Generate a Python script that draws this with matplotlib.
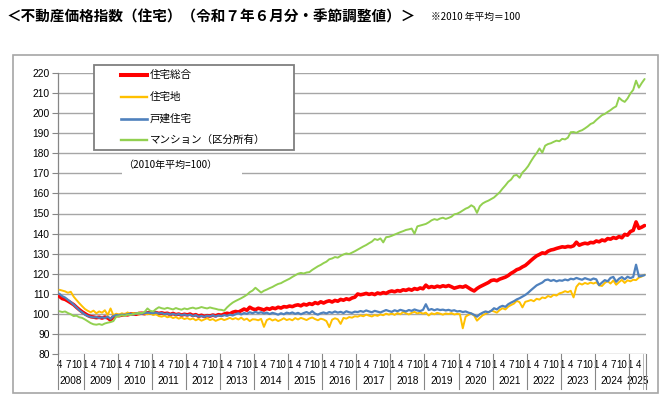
import matplotlib
matplotlib.use("Agg")
import matplotlib.pyplot as plt
from matplotlib import font_manager
from matplotlib.transforms import blended_transform_factory
from matplotlib.lines import Line2D
from matplotlib.patches import Rectangle

# ---------------- data ----------------
title = "＜不動産価格指数（住宅）（令和７年６月分・季節調整値）＞"
note = "※2010 年平均＝100"
base_note = "（2010年平均=100）"
series_names = ["住宅総合", "住宅地", "戸建住宅", "マンション（区分所有）"]
start_year, start_month = 2008, 4
y_ticks = list(range(80, 221, 10))
month_label_set = [1, 4, 7, 10]

total = [
    108.7, 107.6, 107.2, 106.4, 105.5, 104.6, 103.3, 102.1, 101.0,
    100.1, 99.2, 98.6, 98.4, 98.1, 98.3, 97.9, 98.4, 98.0, 96.9, 98.7, 99.2,
    99.1, 99.4, 99.6, 99.5, 99.9, 100.0, 99.8, 100.2, 100.3, 100.1, 100.5, 100.6,
    100.4, 100.6, 100.2, 100.5, 100.1, 100.3, 99.7, 100.2, 99.6, 99.9, 99.4, 99.8,
    99.5, 99.9, 99.2, 99.6, 98.8, 99.3, 98.7, 99.1, 98.9, 99.4, 99.0, 99.6,
    99.3, 99.9, 100.3, 100.0, 100.8, 101.2, 100.9, 101.6, 102.4, 101.8, 103.3, 102.5,
    102.1, 102.8, 102.4, 101.9, 102.7, 102.3, 103.0, 102.6, 103.3, 102.9, 103.6, 103.4,
    103.9, 103.6, 104.2, 104.5, 104.0, 104.8, 104.4, 105.1, 104.7, 105.6, 105.1, 106.0,
    105.4, 106.1, 106.5, 105.9, 106.7, 106.3, 107.2, 106.8, 107.5, 107.1, 107.9, 108.3,
    109.9, 109.5, 109.8, 110.2, 109.7, 110.1, 109.6, 110.4, 110.0, 110.6, 110.2, 111.0,
    111.4, 111.0, 111.6, 111.3, 112.0, 111.7, 112.3, 111.8, 112.6, 112.2, 112.9, 112.5,
    114.3, 113.1, 113.6, 113.2, 113.8, 113.4, 114.0, 113.6, 114.1, 113.5, 112.8, 113.2,
    113.6, 113.3, 113.9, 113.0, 112.1, 111.4, 112.6, 113.5, 114.2, 114.9, 115.6, 116.6,
    116.9, 116.5, 117.3, 117.8, 118.3, 119.1, 120.2, 121.0, 122.0, 122.5, 123.4, 124.1,
    125.3, 126.6, 127.8, 128.9, 129.6, 130.4, 130.1, 131.2, 131.8, 132.1, 132.6, 133.0,
    133.4, 133.2, 133.6, 133.4, 133.9, 135.7, 134.2, 134.8, 135.2, 134.9, 135.6, 135.4,
    136.3, 135.9, 136.8, 136.4, 137.5, 137.2, 138.0, 137.6, 138.5, 137.9, 139.6, 139.2,
    141.0, 141.6, 145.8, 142.6, 143.2, 144.0,
]

land = [
    112.0, 111.6, 111.2, 110.5, 111.0, 108.6, 106.9, 105.3, 103.8,
    102.4, 101.5, 100.8, 101.6, 100.3, 101.2, 100.6, 101.8, 99.4, 102.7, 99.2, 100.1,
    99.6, 100.3, 99.8, 100.7, 99.9, 100.4, 100.0, 99.7, 100.5, 100.1, 99.8, 100.2,
    99.4, 99.8, 98.9, 98.6, 99.1, 98.3, 98.7, 97.9, 98.4, 97.6, 98.2, 97.4,
    97.9, 97.2, 97.7, 96.8, 97.5, 96.6, 97.2, 97.8, 96.9, 97.4, 96.5, 97.1,
    97.6, 96.9, 97.4, 98.0, 97.3, 97.9, 97.2, 98.1, 97.0, 97.6, 96.4, 97.3,
    97.2, 96.8, 97.5, 93.5, 96.9, 97.6, 96.7, 97.3, 96.4, 97.0, 97.8, 96.9,
    97.4, 96.8, 97.9, 97.2, 98.0, 97.5, 96.9, 97.7, 98.2, 97.4, 96.8, 97.6,
    97.2, 96.4, 93.4, 97.1, 97.8, 97.3, 95.0, 98.0, 97.6, 98.4, 98.1, 98.8,
    98.6, 99.2, 98.8, 99.6, 99.1, 98.7, 99.4, 99.0, 99.7, 99.3, 100.1, 99.6,
    100.2, 99.5, 100.4, 99.8, 100.9, 100.3, 99.7, 100.5, 101.0, 100.2, 100.7, 100.1,
    100.6, 99.2, 100.3, 99.8, 100.5, 100.1, 99.6, 100.2, 99.9, 100.4, 99.7, 100.0,
    99.8, 92.8, 98.6, 99.5, 100.2, 99.1, 96.6, 98.0, 99.3, 100.0, 100.8, 101.6,
    101.2, 100.6, 101.9, 102.8, 102.2, 103.6, 104.4, 105.1, 106.5, 105.8, 103.2, 106.0,
    106.4, 106.9, 106.3, 107.5, 107.1, 108.2, 107.8, 108.9, 108.4, 109.5, 109.1, 110.2,
    110.6, 111.3, 110.8, 111.5, 108.2, 113.5, 115.2, 114.6, 115.4, 114.9, 115.6, 115.1,
    115.7, 114.2, 113.9, 115.4, 116.3, 115.1, 116.6, 114.5, 115.8, 116.9, 115.4, 116.7,
    116.2, 117.0, 116.8, 118.1, 118.6, 119.5,
]

house = [
    110.0, 108.8, 108.1, 107.0, 105.9, 104.6, 103.2, 101.8, 100.7,
    99.6, 98.9, 98.5, 98.2, 98.4, 98.0, 98.3, 97.9, 98.6, 97.5, 98.9, 99.4,
    99.2, 99.6, 99.4, 99.8, 100.0, 99.7, 100.1, 100.3, 100.0, 100.4, 100.6, 100.5,
    100.3, 100.7, 100.1, 100.5, 99.8, 100.2, 99.6, 100.0, 99.5, 99.9, 99.3, 99.7,
    99.2, 99.6, 98.9, 99.4, 98.6, 99.0, 98.5, 99.1, 98.8, 99.3, 98.7, 99.2,
    98.9, 99.4, 99.0, 99.6, 99.2, 99.8, 100.3, 99.7, 100.4, 100.0, 100.8, 100.3,
    101.0, 100.4, 100.8, 100.2, 100.6, 99.9, 100.5, 100.1, 99.6, 100.3, 99.8, 100.6,
    100.2, 100.7, 100.0, 100.5, 99.8, 100.4, 100.9, 100.2, 101.3, 100.1, 99.6, 100.3,
    100.7, 100.2, 100.9, 100.5, 101.2, 100.6, 101.0, 100.4, 101.3, 100.8, 100.5, 101.1,
    100.9, 101.4, 101.0, 101.7, 101.2, 100.8, 101.5, 101.1, 100.7, 101.3, 101.9, 101.4,
    101.0, 101.8, 101.3, 102.0, 101.6, 101.2, 101.9, 101.5, 102.2, 101.7, 101.4, 102.0,
    104.8, 101.9, 102.4, 101.8, 102.3, 101.9, 102.1, 101.7, 102.0, 101.5, 101.8, 101.2,
    101.4, 100.9, 101.2, 100.6, 100.2, 99.5, 98.6, 99.8, 100.6, 101.2, 100.8, 101.5,
    102.8, 102.2, 103.4, 104.0, 103.5, 104.8, 105.6, 106.3, 107.2, 107.8, 108.6, 109.4,
    110.5, 111.8, 113.0, 114.2, 114.9, 115.6, 116.8, 117.1, 116.4, 116.9, 116.2, 116.7,
    116.5, 117.1, 116.7, 117.5, 117.2, 117.9, 117.4, 117.0, 117.8, 117.3, 116.9, 117.6,
    117.2, 114.3, 115.6, 116.8, 116.2, 117.9, 118.4, 116.0, 117.5, 118.3, 117.2, 118.5,
    117.8, 118.4, 124.5, 118.6, 118.9, 119.3,
]

condo = [
    101.3, 100.9, 101.2, 100.4, 99.8, 98.9, 99.1, 98.3, 98.0,
    97.2, 96.3, 95.4, 94.8, 94.6, 94.9, 94.5, 95.2, 95.6, 95.9, 96.4, 98.6,
    98.8, 99.3, 99.0, 99.6, 99.4, 99.9, 100.2, 100.6, 100.3, 101.0, 102.7, 101.5,
    101.2, 102.4, 103.3, 102.8, 102.5, 103.0, 102.6, 102.2, 102.9, 102.4, 102.1, 102.7,
    102.3, 102.8, 103.1, 102.6, 102.9, 103.4, 103.0, 102.7, 103.2, 102.8, 102.5, 102.1,
    102.0, 101.6, 103.2, 104.5, 105.6, 106.4, 107.1, 107.8, 108.6, 109.5, 110.8, 111.6,
    113.0, 111.8, 110.6, 111.5, 112.1, 112.8, 113.4, 114.2, 114.9, 115.3, 116.1, 116.8,
    117.5, 118.4, 119.2, 120.0, 120.4, 120.1, 120.6, 120.8, 121.9, 122.8, 123.7, 124.4,
    125.3, 126.0, 127.2, 127.6, 128.3, 128.0, 128.9, 129.6, 130.1, 129.8, 130.5, 131.2,
    132.0, 132.8, 133.6, 134.3, 135.2, 136.0, 137.3, 136.8, 137.6, 135.6, 138.2, 138.4,
    138.9, 139.5, 140.1, 140.7, 141.2, 141.8, 142.1, 142.5, 139.9, 143.6, 144.0, 144.4,
    144.8, 145.6, 146.6, 147.2, 146.8, 147.5, 147.9, 147.3, 147.8, 148.4, 149.6, 149.9,
    150.6, 151.5, 152.4, 153.0, 154.1, 153.2, 150.3, 153.6, 155.0, 155.8, 156.4, 157.2,
    158.0, 159.3, 160.6, 162.4, 164.0, 165.8, 166.9, 168.9, 169.2, 167.8, 170.4, 171.8,
    173.6, 176.0, 178.2, 180.1, 182.4, 180.3, 183.8, 184.6, 185.0, 185.7, 186.3, 186.0,
    187.2, 186.9, 187.8, 190.5, 190.6, 190.2, 191.0, 191.5, 192.4, 193.4, 194.6, 195.2,
    196.6, 197.8, 199.0, 199.6, 200.6, 201.5, 202.6, 203.4, 207.7, 206.4, 205.6, 207.3,
    209.8, 211.6, 216.2, 212.7, 215.0, 217.0,
]

series = [total, land, house, condo]
colors = ["#ff0000", "#ffc000", "#4f81bd", "#92d050"]
widths = [2.6, 1.4, 1.6, 1.4]

# ---------------- fonts ----------------
available = {f.name for f in font_manager.fontManager.ttflist}
jp = ["Noto Sans CJK JP", "DejaVu Sans"]
num_font = "Liberation Sans" if "Liberation Sans" in available else "DejaVu Sans"
narrow_font = "Liberation Sans Narrow" if "Liberation Sans Narrow" in available else num_font
plt.rcParams["font.family"] = jp

W, H = 662, 399
fig = plt.figure(figsize=(W / 100, H / 100), dpi=100)
fig.patch.set_facecolor("white")


def fx(px):
    return px / W


def fy(py):
    return 1 - py / H


# axes geometry (pixels)
ax_left, ax_right, ax_top, ax_bottom = 58, 646, 72.6, 354.4
ax = fig.add_axes([fx(ax_left), fy(ax_bottom), (ax_right - ax_left) / W, (ax_bottom - ax_top) / H])
ax.set_facecolor("none")

n = len(total)
x = list(range(n))
for s, c, lw in zip(series, colors, widths):
    ax.plot(x, s, color=c, lw=lw, solid_joinstyle="round", solid_capstyle="round", zorder=3)

ax.set_xlim(-0.5, n - 0.5)
ax.set_ylim(79.8, 220.2)
ax.set_yticks(y_ticks)
ax.set_yticklabels([str(v) for v in y_ticks], fontsize=7.4, family=num_font)
ax.tick_params(axis="y", length=4, width=0.8, color="#868686", pad=2)
ax.set_xticks([])
ax.yaxis.grid(True, color="#a6a6a6", lw=1.0)
ax.set_axisbelow(True)
for sp in ["top", "right", "bottom"]:
    ax.spines[sp].set_visible(False)
ax.spines["left"].set_color("#868686")
ax.spines["left"].set_linewidth(0.9)

# ---------------- category axis (multi-level) ----------------
ym = [(start_year + (start_month - 1 + k) // 12, (start_month - 1 + k) % 12 + 1) for k in range(n)]
blend = blended_transform_factory(ax.transData, fig.transFigure)
for k, (yy, mm) in enumerate(ym):
    if mm in month_label_set:
        ax.text(k, fy(364.5), str(mm), transform=blend, ha="center", va="center",
                fontsize=7.0, family=narrow_font, clip_on=False)

years = sorted(set(yy for yy, _ in ym))
for yy in years:
    idx = [k for k, (a, _) in enumerate(ym) if a == yy]
    first, last = idx[0], idx[-1]
    ax.text((first + last) / 2, fy(381), str(yy), transform=blend, ha="center", va="center",
            fontsize=7.2, family=narrow_font, clip_on=False)
    fig.add_artist(Line2D([first - 0.5, first - 0.5], [fy(354.4), fy(389)], transform=blend,
                          color="#868686", lw=0.8))
fig.add_artist(Line2D([n - 0.5, n - 0.5], [fy(354.4), fy(389)], transform=blend,
                      color="#868686", lw=0.8))
fig.add_artist(Line2D([n - 1.6, n - 1.6], [fy(354.4), fy(389)], transform=blend,
                      color="#b0b0b0", lw=0.6))

# ---------------- chart frame ----------------
fig.add_artist(Rectangle((fx(13), fy(393)), (658 - 13) / W, (393 - 55) / H, transform=fig.transFigure,
                         fill=False, ec="#a6a6a6", lw=1.2, zorder=0))

# ---------------- titles ----------------
fig.text(fx(7), fy(17), title, ha="left", va="center", fontsize=10.5, fontweight="bold", family=jp)
fig.text(fx(431), fy(17), note, ha="left", va="center", fontsize=7.0, family=jp)

# ---------------- legend box ----------------
fig.add_artist(Rectangle((fx(94), fy(150)), 200 / W, 85 / H, transform=fig.transFigure,
                         fc="white", ec="#7f7f7f", lw=1.3, zorder=5))
row_y = [75, 97, 118.5, 140]
for name, c, lw, ry in zip(series_names, colors, widths, row_y):
    fig.add_artist(Line2D([fx(121), fx(147)], [fy(ry), fy(ry)], transform=fig.transFigure,
                          color=c, lw=lw + 0.3, zorder=6))
    fig.text(fx(150), fy(ry), name, ha="left", va="center", fontsize=7.6, family=jp, zorder=6)

# ---------------- base note ----------------
fig.add_artist(Rectangle((fx(122), fy(178)), 120 / W, 22 / H, transform=fig.transFigure,
                         fc="white", ec="none", zorder=5))
fig.text(fx(170), fy(165), base_note, ha="center", va="center", fontsize=7.2, family=jp, zorder=6)

fig.savefig("out.png", dpi=100, facecolor="white")
